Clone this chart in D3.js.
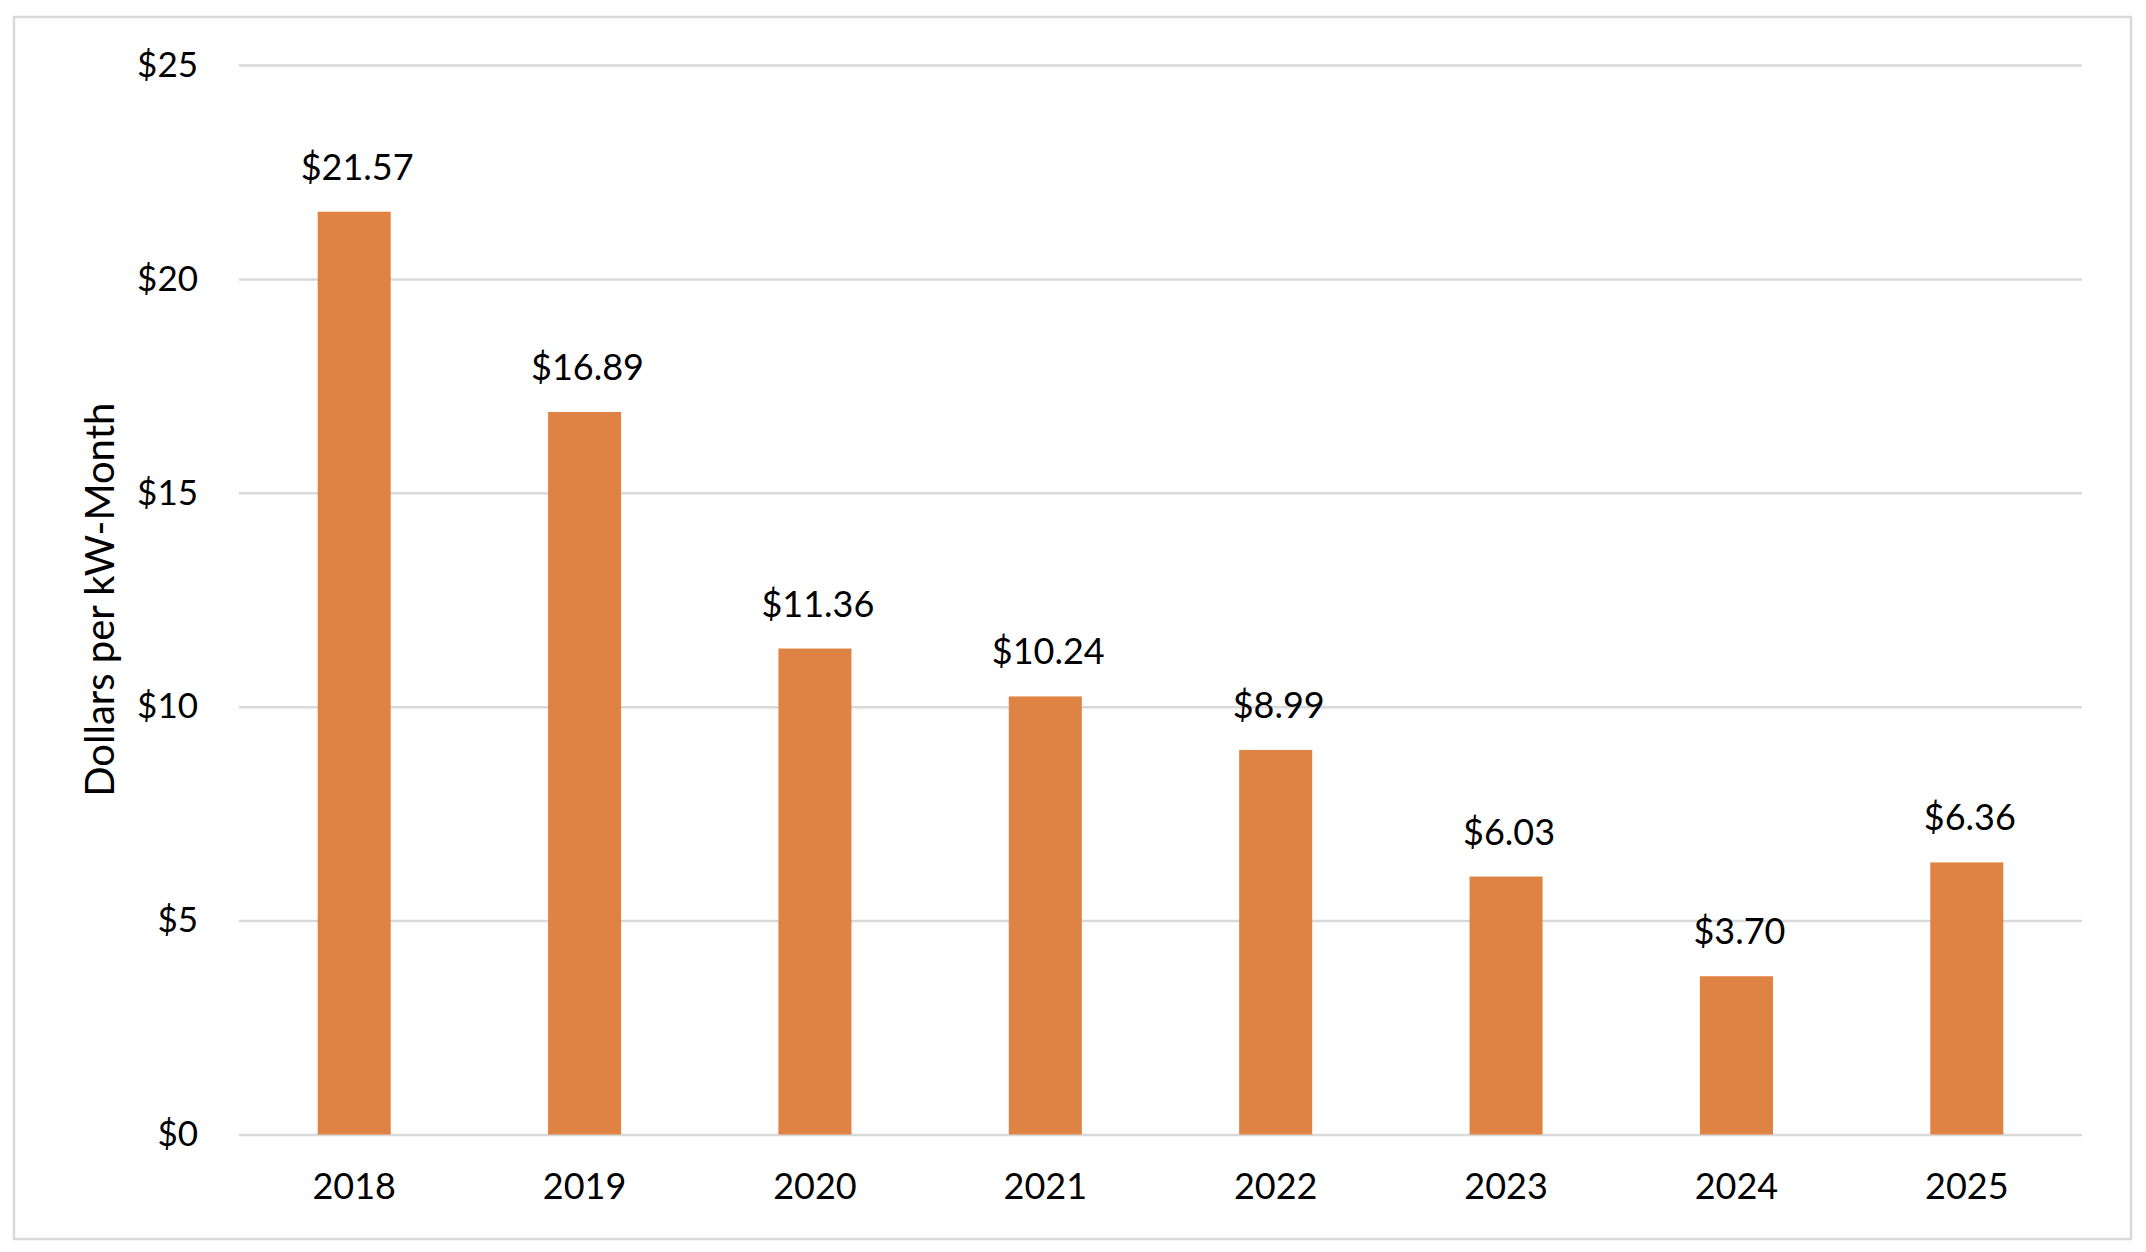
<!DOCTYPE html>
<html>
<head>
<meta charset="utf-8">
<script src="https://cdn.jsdelivr.net/npm/d3@7"></script>
<style>
  body { margin: 0; background: #fff; }
  text { font-family: Lato, "Open Sans", sans-serif; fill: #000; }
</style>
</head>
<body>
<svg id="chart" width="2146" height="1252"></svg>
<script>
// chart data
var years = ["2018", "2019", "2020", "2021", "2022", "2023", "2024", "2025"];
var prices = [21.57, 16.89, 11.36, 10.24, 8.99, 6.03, 3.70, 6.36];
var yTicks = [0, 5, 10, 15, 20, 25];

// dimensions of the drawing
var W = 2146, H = 1252;
var margin = {top: 65, right: 64, bottom: 117.5, left: 239};
var width = W - margin.left - margin.right,
    height = H - margin.top - margin.bottom;

var svg = d3.select("#chart");

// outer frame
svg.append("rect")
  .attr("x", 14).attr("y", 17)
  .attr("width", 2117).attr("height", 1222)
  .attr("fill", "#fff")
  .attr("stroke", "#d9d9d9")
  .attr("stroke-width", 2.5);

var g = svg.append("g").attr("transform", "translate(" + margin.left + "," + margin.top + ")");

var x = d3.scaleBand().domain(years).range([0, width]).paddingInner(0.683).paddingOuter(0.3415);
var y = d3.scaleLinear().domain([0, 25]).range([height, 0]);

// gridlines + y labels
var yAxis = g.append("g")
  .call(d3.axisLeft(y).tickValues(yTicks).tickSize(-width).tickPadding(41)
    .tickFormat(function(d) { return "$" + d; }));
yAxis.select(".domain").remove();
yAxis.selectAll("line").attr("stroke", "#d9d9d9").attr("stroke-width", 2.5);
yAxis.selectAll("text").style("font-size", "35px").attr("fill", "#000");

// bars
g.selectAll("rect.bar")
  .data(prices)
  .enter().append("rect")
  .attr("class", "bar")
  .attr("x", function(d, i) { return x(years[i]); })
  .attr("y", function(d) { return y(d); })
  .attr("width", x.bandwidth())
  .attr("height", function(d) { return height - y(d); })
  .attr("fill", "#df8344");

// value labels over bars
g.selectAll("text.val")
  .data(prices)
  .enter().append("text")
  .attr("class", "val")
  .attr("x", function(d, i) { return x(years[i]) + x.bandwidth() / 2 + 3; })
  .attr("y", function(d) { return y(d) - 32; })
  .attr("text-anchor", "middle")
  .style("font-size", "36px")
  .text(function(d) { return "$" + d.toFixed(2); });

// x axis labels
var xAxis = g.append("g")
  .attr("transform", "translate(0," + height + ")")
  .call(d3.axisBottom(x).tickSize(0).tickPadding(39));
xAxis.select(".domain").remove();
xAxis.selectAll("text").style("font-size", "36px").attr("fill", "#000");

// y axis title
svg.append("text")
  .attr("transform", "translate(114," + (margin.top + height / 2) + ") rotate(-90)")
  .attr("text-anchor", "middle")
  .style("font-size", "40px")
  .text("Dollars per kW-Month");
</script>
</body>
</html>
